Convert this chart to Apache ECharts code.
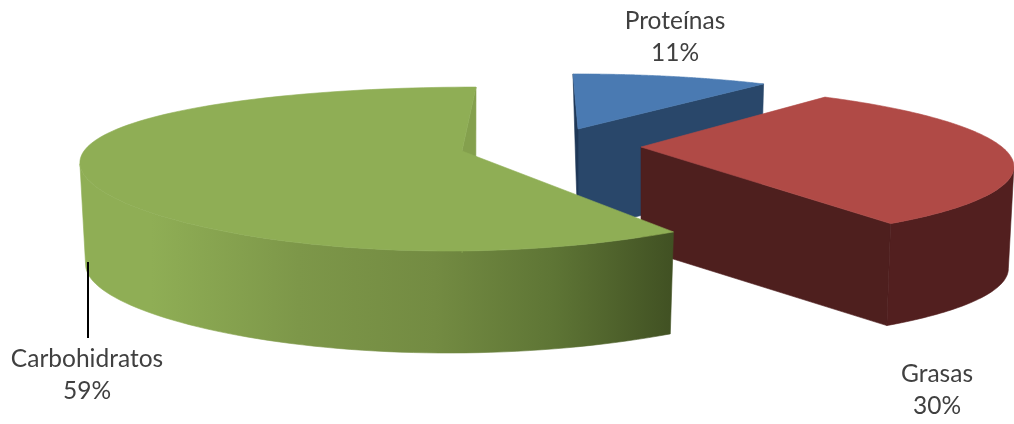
<!DOCTYPE html>
<html>
<head>
<meta charset="utf-8">
<style>html,body{margin:0;padding:0;background:#fff}#c{width:1014px;height:424px}</style>
<script src="https://cdn.jsdelivr.net/npm/echarts@6/dist/echarts.min.js"></script>
</head>
<body>
<div id="c"></div>
<script>
// Data
const categories = ['Proteínas', 'Grasas', 'Carbohidratos'];
const values = [11, 30, 59];

// Per-slice projection and styling (3D view of the exploded pie)
const views = [
  {cx:578, cy:129, rx:343, ry:74, px:0.2,  py:0.344, sk:5,   top:'#4a7ab2', wall:null, startWall:'#1e3858', startShift:3, endWall:'#29476a', label:[675,37]},
  {cx:641, cy:147, rx:361, ry:75, px:0.2,  py:0.205, sk:20,  top:'#b04a46', wall:'#521f1f', endWall:'#4e1f1e', label:[937,390]},
  {cx:462, cy:151, rx:378, ry:78, px:0.11, py:0.22,  sk:-14, top:'#8fae55', wall:'grad', endWall:'#84a04d', label:[87,375]}
];
const depth = 102, bottomScale = 0.985;
const total = values.reduce((a, b) => a + b, 0);
const starts = values.map((_, i) => values.slice(0, i).reduce((a, b) => a + b, 0) / total);

function proj(v, a) {           // a: clockwise turn fraction from 12 o'clock
  const t = a * 2 * Math.PI, uu = Math.sin(t), vv = -Math.cos(t);
  return [v.cx + v.rx * uu / (1 - v.px * vv) + v.sk * vv, v.cy + v.ry * vv / (1 - v.py * vv)];
}
function down(v, p) { return [v.cx + (p[0] - v.cx) * bottomScale, p[1] + depth]; }

const greenWall = new echarts.graphic.LinearGradient(80, 0, 672, 0, [
  {offset:0, color:'#8fae55'}, {offset:0.12, color:'#8fae55'}, {offset:0.37, color:'#7d9749'},
  {offset:0.6, color:'#738b42'}, {offset:0.8, color:'#5e7535'}, {offset:1, color:'#415123'}
], true);

function poly(points, fill) {
  return {type:'polygon', shape:{points}, style:{fill, stroke:fill, lineWidth:0.6}};
}

function renderItem(params, api) {
  const i = params.dataIndex, v = views[i];
  const s = starts[i], e = s + api.value(0) / total;
  const n = 120, rim = [];
  for (let k = 0; k <= n; k++) rim.push(proj(v, s + (e - s) * k / n));
  const apex = [v.cx, v.cy], apexDown = down(v, apex);
  const children = [];
  if (v.wall) {
    // visible outer wall: from the silhouette extreme along the front of the rim
    let ext = 0;
    rim.forEach((p, k) => { if (Math.abs(p[0] - v.cx) > Math.abs(rim[ext][0] - v.cx)) ext = k; });
    const front = rim[0][1] > rim[n][1] ? rim.slice(0, ext + 1) : rim.slice(ext);
    children.push(poly(front.concat(front.map(p => down(v, p)).reverse()), v.wall === 'grad' ? greenWall : v.wall));
  }
  if (v.endWall) children.push(poly([apex, rim[n], down(v, rim[n]), apexDown], v.endWall));
  if (v.startWall) {
    const d = down(v, rim[0]);
    children.push(poly([apex, rim[0], [d[0] + (v.startShift || 0), d[1]], apexDown], v.startWall));
  }
  children.push(poly([apex].concat(rim), v.top));
  children.push({
    type:'text', z2:10,
    style:{
      text: categories[i] + '\n' + Math.round(api.value(0) / total * 100) + '%',
      x:v.label[0], y:v.label[1], align:'center', verticalAlign:'middle',
      fill:'#404040', font:'24.5px Lato', lineHeight:32
    }
  });
  if (i === 2) children.push({type:'line', z2:10, shape:{x1:88, y1:262, x2:88, y2:338}, style:{stroke:'#000', lineWidth:2}});
  return {type:'group', children};
}

const chart = echarts.init(document.getElementById('c'), null, {renderer:'canvas'});
chart.setOption({
  animation:false,
  backgroundColor:'#fff',
  series:[{
    type:'custom', coordinateSystem:'none', silent:true,
    renderItem,
    data: values.map((val, i) => ({name:categories[i], value:[val]}))
  }]
});
</script>
</body>
</html>
